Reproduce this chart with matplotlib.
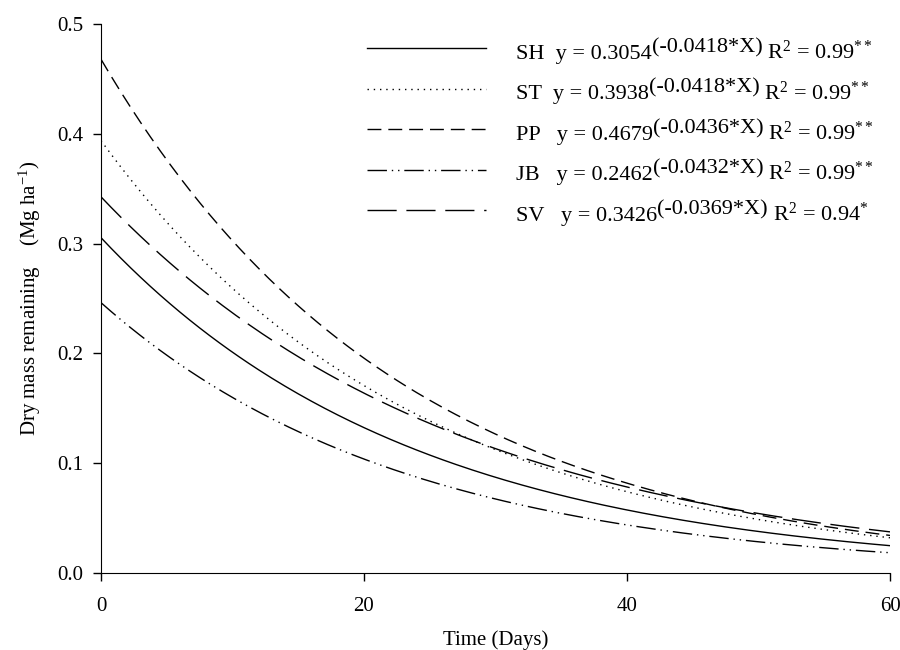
import numpy as np
import matplotlib
matplotlib.use("Agg")
import matplotlib.pyplot as plt

plt.rcParams['font.family'] = ['Liberation Serif', 'DejaVu Serif']
plt.rcParams['mathtext.fontset'] = 'custom'
plt.rcParams['mathtext.rm'] = 'Liberation Serif'
plt.rcParams['mathtext.it'] = 'Liberation Serif'

# fitted models y = a * exp(b * X)
treatments = ["SH", "ST", "PP", "JB", "SV"]
coef_a = [0.3054, 0.3938, 0.4679, 0.2462, 0.3426]
coef_b = [-0.0418, -0.0418, -0.0436, -0.0432, -0.0369]
r2 = ["0.99", "0.99", "0.99", "0.99", "0.94"]
signif = ["**", "**", "**", "**", "*"]
days = np.linspace(0, 60, 241)

styles = ["-", (0, (1, 3.5)), (0, (10, 5)), (0, (14, 3.5, 1, 3.5, 1, 3.5)), (0, (21, 7))]
gaps = ["  ", "  ", "   ", "   ", "   "]

fig = plt.figure(figsize=(9, 6.5), dpi=100)
ax = fig.add_axes([0.1122, 0.1185, 0.8767, 0.8446])

for name, a, b, ls, g in zip(treatments, coef_a, coef_b, styles, gaps):
    ax.plot(days, a * np.exp(b * days), color="black", lw=1.0, linestyle=ls,
            label=name + g + "y = " + f"{a:.4f}")

ax.set_xlim(0, 60)
ax.set_ylim(0, 0.5)
ax.set_xticks([0, 20, 40, 60])
ax.set_yticks([0.0, 0.1, 0.2, 0.3, 0.4, 0.5])
ax.set_yticklabels([f"{v:.1f}" for v in [0.0, 0.1, 0.2, 0.3, 0.4, 0.5]])
ax.spines['top'].set_visible(False)
ax.spines['right'].set_visible(False)
ax.tick_params(direction='out', length=6, width=1, labelsize=15)
ax.tick_params(axis='x', pad=11)
ax.tick_params(axis='y', pad=7)
ax.set_xlabel("Time (Days)", fontsize=15)
ax.set_ylabel("Dry mass remaining    (Mg ha$^{-1}$)", fontsize=15)
ax.xaxis.set_label_coords(0.5, -0.104)
ax.yaxis.set_label_coords(-0.074, 0.5)

leg = ax.legend(loc="upper left", bbox_to_anchor=(0.337, 0.9745), frameon=False, fontsize=16,
                handlelength=5.35, handleheight=1.5, handletextpad=1.35, labelspacing=0.6,
                borderaxespad=0, borderpad=0)

# exponent and R² pieces follow each legend entry
for txt, b, r, s in zip(leg.get_texts(), coef_b, r2, signif):
    ex = ax.annotate(f"({b:.4f}*X)", xy=(1, 0.35), xycoords=txt, ha="left", va="bottom",
                     fontsize=16, zorder=6, annotation_clip=False)
    ax.annotate(" R$^2$ = " + r + r"$^{" + s + "}$", xy=(1, 0), xycoords=(ex, txt),
                ha="left", va="bottom", fontsize=16, zorder=7, annotation_clip=False)

plt.savefig("out.png", dpi=100)
